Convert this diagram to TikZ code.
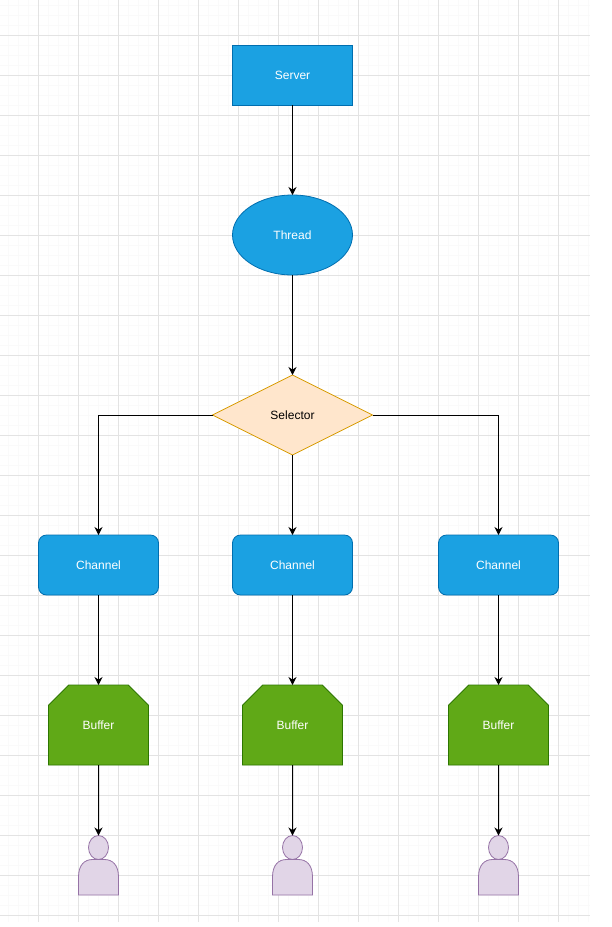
\documentclass[tikz,border=0pt]{standalone}
\usepackage{fontspec}
\setmainfont{Liberation Sans}
\usetikzlibrary{shapes.geometric, shapes.misc, arrows.meta, positioning}
\definecolor{blockblue}{HTML}{1BA1E2}
\definecolor{blockblueline}{HTML}{006EAF}
\definecolor{selectfill}{HTML}{FFE6CC}
\definecolor{selectline}{HTML}{D79B00}
\definecolor{buffergreen}{HTML}{60A917}
\definecolor{buffergreenline}{HTML}{2D7600}
\definecolor{userfill}{HTML}{E1D5E7}
\definecolor{userline}{HTML}{9673A6}
\tikzset{
  block/.style={draw=blockblueline, fill=blockblue, text=white, inner sep=0pt, outer sep=0pt, line width=0.8pt},
  serverbox/.style={block, rectangle, minimum width=120pt, minimum height=60pt},
  threadbox/.style={block, ellipse, minimum width=120pt, minimum height=80pt},
  channelbox/.style={block, rectangle, rounded corners=8pt, minimum width=120pt, minimum height=60pt},
  selectorbox/.style={diamond, draw=selectline, fill=selectfill, text=black, inner sep=0pt, outer sep=0pt, line width=0.8pt,
                      aspect=2, minimum width=160pt, minimum height=80pt},
  bufferbox/.style={chamfered rectangle, chamfered rectangle corners={north west, north east},
                    chamfered rectangle xsep=20pt, chamfered rectangle ysep=16pt,
                    draw=buffergreenline, fill=buffergreen, text=white, inner sep=0pt, outer sep=0pt, line width=0.8pt,
                    minimum width=100pt, minimum height=80pt},
  link/.style={draw=black, line width=1pt, -{Stealth[length=8pt, width=8pt]}},
  person/.pic={
    \node[ellipse, draw=userline, fill=userfill, line width=0.8pt, inner sep=0pt, outer sep=0pt,
          minimum width=20pt, minimum height=24pt] (-head) at (0,12.5) {};
    \draw[draw=userline, fill=userfill, line width=0.8pt]
      (-20,60) -- (-20,42) .. controls (-20,30) and (-14,24.5) .. (-6,24.5)
      -- (6,24.5) .. controls (14,24.5) and (20,30) .. (20,42) -- (20,60) -- cycle;
  }
}
\begin{document}
\begin{tikzpicture}[x=1pt, y=-1pt, font=\fontsize{12}{14}\selectfont]
  \useasboundingbox (0,0) rectangle (612,927);
  \fill[white] (0,0) rectangle (612,927);

  % grid paper
  \begin{scope}
    \clip (0,0) rectangle (590,922);
    \foreach \i in {0,...,92} {
      \draw[line width=0.8pt, black!2] (8.5+\i*10,0) -- (8.5+\i*10,922);
      \draw[line width=0.8pt, black!2] (0,5.5+\i*10) -- (590,5.5+\i*10);
    }
    \foreach \i in {0,...,22} {
      \draw[line width=0.8pt, black!11] (38.5+\i*40,0) -- (38.5+\i*40,922);
      \draw[line width=0.8pt, black!11] (0,35.5+\i*40) -- (590,35.5+\i*40);
    }
  \end{scope}

  % top column
  \node[serverbox] (server) at (292.5,75) {Server};
  \node[threadbox, below=90pt of server] (thread) {Thread};
  \node[selectorbox, below=100pt of thread] (selector) {Selector};
  \draw[link] (server) -- (thread);
  \draw[link] (thread) -- (selector);

  % one branch per channel
  \foreach \col/\xpos in {a/98.5, b/292.5, c/498.5} {
    \node[channelbox] (channel\col) at (\xpos,565) {Channel};
    \node[bufferbox, below=90pt of channel\col] (buffer\col) {Buffer};
    \pic (user\col) at (\xpos,835) {person};
    \draw[link] (channel\col) -- (buffer\col);
    \draw[link] (buffer\col) -- (user\col-head);
  }
  \draw[link] (selector.west) -| (channela.north);
  \draw[link] (selector) -- (channelb);
  \draw[link] (selector.east) -| (channelc.north);
\end{tikzpicture}
\end{document}
